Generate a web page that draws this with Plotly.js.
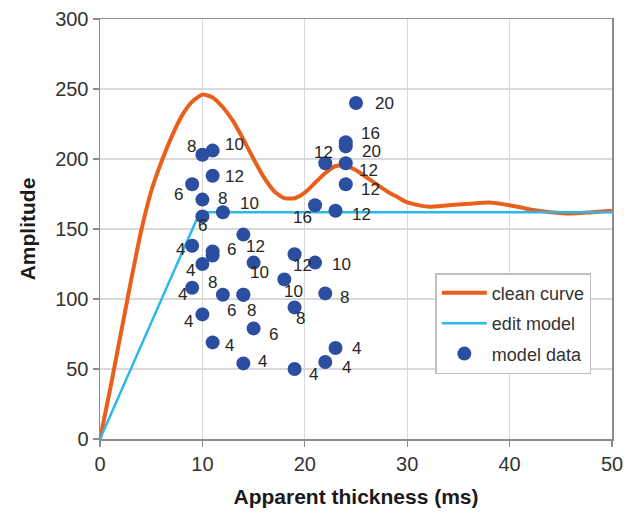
<!DOCTYPE html>
<html>
<head>
<meta charset="utf-8">
<script src="https://cdn.plot.ly/plotly-3.0.1.min.js"></script>
<style>html,body{margin:0;padding:0;background:#fff;}#chart{width:629px;height:522px;}</style>
</head>
<body>
<div id="chart"></div>
<script>
// clean curve
const cleanX = [0,1,2,3,4,5,6,7,8,9,10,11,12,13,14,15,16,17,18,19,20,21,22,23,24,25,26,27,28,29,30,32,34,36,38,40,42,44,46,48,50];
const cleanY = [0,36,74,112,148,177,198,216,231,241,246,244,237,227,214,200,187,177,172,172,176,183,190,195,195,192,187,182,177,173,169,166,167,168,169,167,164,162,161,162,163];
// edit model
const editX = [0, 9.75, 50];
const editY = [0, 162, 162];
// model data
const modelX = [10,11,11,9,10,12,10,14,9,11,11,10,15,9,12,14,14,10,15,11,14,19,21,18,22,19,19,22,23,22,24,24,21,23,25,24,24];
const modelY = [203,206,188,182,171,162,159,146,138,134,131,125,126,108,103,103,103,89,79,69,54,132,126,114,104,94,50,55,65,197,197,182,167,163,240,212,209];
const modelLabel = ["8","10","12","6","8","10","6","12","4","6","","4","10","4","8","6","8","4","6","4","4","12","10","10","8","8","4","4","4","12","12","12","16","12","20","16","20"];
const legendNames = ["clean curve","edit model","model data"];

// label placement (style): pixel offsets of each label from its point
const labelDx = [-11,22,22,-14,20,27,0,12,-12,19,0,-12,6,-10,-10,-12,8,-14,20,17,19,8,26,9,19,6,19,21,21,-2,23,25,-13,26,28,25,26];
const labelDy = [-8,-6,1,10,-1,-9,9,12,4,-2,0,6,10,7,-12,16,16,7,6,3,-2,11,2,12,4,11,5,5,0,-11,7,5,12,4,0,-9,5];

const FONT = "Liberation Sans, Arial, Helvetica, sans-serif";

const traces = [
  {x: cleanX, y: cleanY, name: legendNames[0], type: "scatter", mode: "lines",
   line: {color: "#e8601c", width: 4, shape: "spline", smoothing: 0.6}, legendgroup: "a"},
  {x: editX, y: editY, name: legendNames[1], type: "scatter", mode: "lines",
   line: {color: "#2cb8ea", width: 2.5}, legendgroup: "b"},
  {x: modelX, y: modelY, name: legendNames[2], type: "scatter", mode: "markers",
   marker: {color: "#2b4ea0", size: 14}, cliponaxis: false, legendgroup: "c"}
];

const annotations = modelX.map((x, i) => ({
  x: x, y: modelY[i], text: modelLabel[i], showarrow: false,
  xref: "x", yref: "y", xanchor: "center", yanchor: "middle",
  xshift: labelDx[i], yshift: -labelDy[i], borderpad: 0,
  font: {family: FONT, size: 17, color: "#262626"}
})).filter(a => a.text !== "");

const axisCommon = {
  showgrid: true, gridcolor: "#d9d9d9", gridwidth: 1.2,
  showline: true, mirror: true, linecolor: "#8c8c8c", linewidth: 1.5,
  ticks: "outside", ticklen: 6, tickcolor: "#8c8c8c", tickwidth: 1.2,
  zeroline: false, tickfont: {family: FONT, size: 20, color: "#333333"}
};

const layout = {
  width: 629, height: 522,
  margin: {l: 100, r: 17, t: 19, b: 83},
  paper_bgcolor: "#ffffff", plot_bgcolor: "#ffffff",
  font: {family: FONT},
  showlegend: true,
  annotations: annotations,
  xaxis: Object.assign({}, axisCommon, {
    range: [0, 50], dtick: 10, tick0: 0,
    title: {text: "Apparent thickness (ms)", font: {family: FONT, size: 21, weight: "bold", color: "#1a1a1a"}, standoff: 16}
  }),
  yaxis: Object.assign({}, axisCommon, {
    range: [0, 300], dtick: 50, tick0: 0,
    title: {text: "Amplitude", font: {family: FONT, size: 21, weight: "bold", color: "#1a1a1a"}, standoff: 14}
  }),
  legend: {
    x: 0.655, y: 0.395, xanchor: "left", yanchor: "top",
    bgcolor: "#ffffff", bordercolor: "#bfbfbf", borderwidth: 1.5,
    font: {family: FONT, size: 18, color: "#333333"},
    itemwidth: 45, tracegroupgap: 4, traceorder: "grouped"
  }
};

Plotly.newPlot("chart", traces, layout, {displayModeBar: false, staticPlot: true});
</script>
</body>
</html>
